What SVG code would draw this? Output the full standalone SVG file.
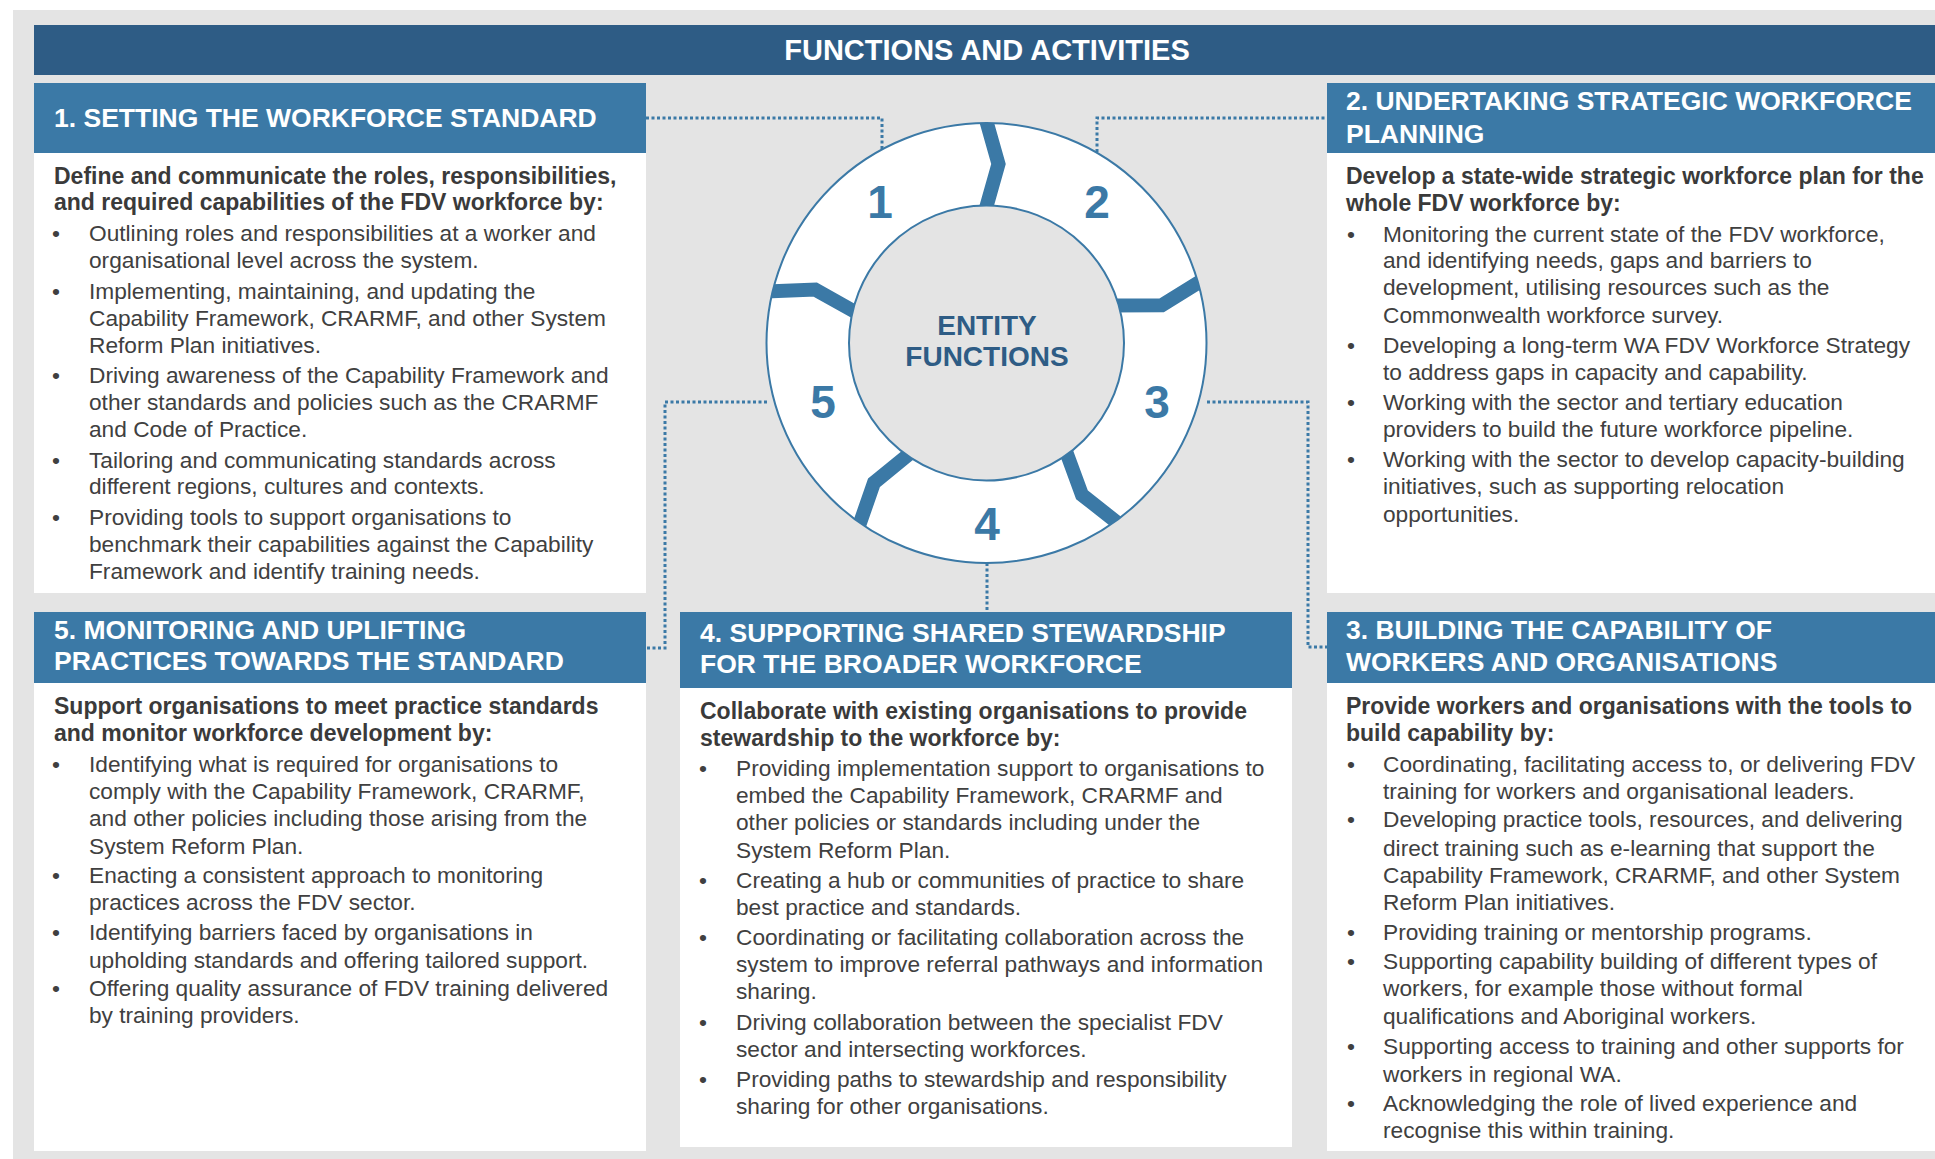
<svg xmlns="http://www.w3.org/2000/svg" width="1935" height="1159" viewBox="0 0 1935 1159">
  <defs>
    <style>
      .bg { fill: #e4e4e4; }
      .bar { fill: #2e5c85; }
      .hdr { fill: #3b79a6; }
      .body { fill: #ffffff; }
      .title { font-family: "Liberation Sans", Arial, sans-serif; font-weight: bold; font-size: 29px; fill: #ffffff; }
      .hd { font-family: "Liberation Sans", Arial, sans-serif; font-weight: bold; font-size: 26.5px; fill: #ffffff; }
      .lead { font-family: "Liberation Sans", Arial, sans-serif; font-weight: bold; font-size: 23px; fill: #3a3a3a; }
      .tx { font-family: "Liberation Sans", Arial, sans-serif; font-size: 22.7px; fill: #404040; }
      .num { font-family: "Liberation Sans", Arial, sans-serif; font-weight: bold; font-size: 46px; fill: #3b79a6; text-anchor: middle; }
      .core { font-family: "Liberation Sans", Arial, sans-serif; font-weight: bold; font-size: 28px; fill: #2e5c85; text-anchor: middle; }
      .link { fill: none; stroke: #3b79a6; stroke-width: 3; stroke-dasharray: 3 2.5; }
      .ring { fill: #ffffff; stroke: #3b79a6; stroke-width: 2; }
      .hub { fill: #e4e4e4; stroke: #3b79a6; stroke-width: 2; }
      .div { fill: none; stroke: #3b79a6; stroke-width: 14; stroke-linejoin: miter; }
    </style>
    <clipPath id="annulus">
      <path clip-rule="evenodd" d="M766.5,343 a220,220 0 1,0 440,0 a220,220 0 1,0 -440,0 Z M849,343 a137.5,137.5 0 1,0 275,0 a137.5,137.5 0 1,0 -275,0 Z"/>
    </clipPath>
    <polyline id="chevron" points="-3,-232 12,-179 -3,-126"/>
  </defs>

  <!-- page background -->
  <rect x="0" y="0" width="1935" height="1159" fill="#ffffff"/>
  <rect class="bg" x="13" y="10" width="1922" height="1149"/>

  <!-- title bar -->
  <g id="title">
    <rect class="bar" x="34" y="25" width="1901" height="50"/>
    <text class="title" x="987" y="60" text-anchor="middle">FUNCTIONS AND ACTIVITIES</text>
  </g>

  <!-- dotted links from the wheel to each function box -->
  <g id="connectors">
    <polyline class="link" points="646,118 882,118 882,150"/>
    <polyline class="link" points="1097,152 1097,118 1327,118"/>
    <polyline class="link" points="1207,402 1308,402 1308,647 1327,647"/>
    <polyline class="link" points="987,563 987,612"/>
    <polyline class="link" points="767,402 665,402 665,648 646,648"/>
  </g>

  <!-- central wheel -->
  <g id="wheel">
    <circle class="ring" cx="986.5" cy="343" r="220"/>
    <g clip-path="url(#annulus)">
      <g transform="translate(986.5,343)" class="div">
        <use href="#chevron"/>
        <use href="#chevron" transform="rotate(74)"/>
        <use href="#chevron" transform="rotate(144)"/>
        <use href="#chevron" transform="rotate(215)"/>
        <use href="#chevron" transform="rotate(283.5)"/>
      </g>
    </g>
    <circle class="hub" cx="986.5" cy="343" r="137.5"/>
    <text class="num" x="880" y="218">1</text>
    <text class="num" x="1097" y="218">2</text>
    <text class="num" x="1157" y="418">3</text>
    <text class="num" x="987" y="540">4</text>
    <text class="num" x="823" y="418">5</text>
    <text class="core" x="987" y="335">ENTITY</text>
    <text class="core" x="987" y="366">FUNCTIONS</text>
  </g>

  <!-- 1. setting the workforce standard -->
  <g id="box1">
    <rect class="hdr" x="34" y="83" width="612" height="70"/>
    <rect class="body" x="34" y="153" width="612" height="440"/>
    <text class="hd" x="54" y="127">1. SETTING THE WORKFORCE STANDARD</text>
    <text class="lead" x="54">
      <tspan x="54" y="184">Define and communicate the roles, responsibilities,</tspan>
      <tspan x="54" y="210">and required capabilities of the FDV workforce by:</tspan>
    </text>
    <text class="tx">
      <tspan x="52" y="241">•</tspan><tspan x="89" y="241">Outlining roles and responsibilities at a worker and</tspan>
      <tspan x="89" y="268">organisational level across the system.</tspan>
      <tspan x="52" y="299">•</tspan><tspan x="89" y="299">Implementing, maintaining, and updating the</tspan>
      <tspan x="89" y="326">Capability Framework, CRARMF, and other System</tspan>
      <tspan x="89" y="353">Reform Plan initiatives.</tspan>
      <tspan x="52" y="383">•</tspan><tspan x="89" y="383">Driving awareness of the Capability Framework and</tspan>
      <tspan x="89" y="410">other standards and policies such as the CRARMF</tspan>
      <tspan x="89" y="437">and Code of Practice.</tspan>
      <tspan x="52" y="468">•</tspan><tspan x="89" y="468">Tailoring and communicating standards across</tspan>
      <tspan x="89" y="494">different regions, cultures and contexts.</tspan>
      <tspan x="52" y="525">•</tspan><tspan x="89" y="525">Providing tools to support organisations to</tspan>
      <tspan x="89" y="552">benchmark their capabilities against the Capability</tspan>
      <tspan x="89" y="579">Framework and identify training needs.</tspan>
    </text>
  </g>

  <!-- 2. undertaking strategic workforce planning -->
  <g id="box2">
    <rect class="hdr" x="1327" y="83" width="608" height="70"/>
    <rect class="body" x="1327" y="153" width="608" height="440"/>
    <text class="hd">
      <tspan x="1346" y="110">2. UNDERTAKING STRATEGIC WORKFORCE</tspan>
      <tspan x="1346" y="143">PLANNING</tspan>
    </text>
    <text class="lead">
      <tspan x="1346" y="184">Develop a state-wide strategic workforce plan for the</tspan>
      <tspan x="1346" y="211">whole FDV workforce by:</tspan>
    </text>
    <text class="tx">
      <tspan x="1347" y="242">•</tspan><tspan x="1383" y="242">Monitoring the current state of the FDV workforce,</tspan>
      <tspan x="1383" y="268">and identifying needs, gaps and barriers to</tspan>
      <tspan x="1383" y="295">development, utilising resources such as the</tspan>
      <tspan x="1383" y="323">Commonwealth workforce survey.</tspan>
      <tspan x="1347" y="353">•</tspan><tspan x="1383" y="353">Developing a long-term WA FDV Workforce Strategy</tspan>
      <tspan x="1383" y="380">to address gaps in capacity and capability.</tspan>
      <tspan x="1347" y="410">•</tspan><tspan x="1383" y="410">Working with the sector and tertiary education</tspan>
      <tspan x="1383" y="437">providers to build the future workforce pipeline.</tspan>
      <tspan x="1347" y="467">•</tspan><tspan x="1383" y="467">Working with the sector to develop capacity-building</tspan>
      <tspan x="1383" y="494">initiatives, such as supporting relocation</tspan>
      <tspan x="1383" y="522">opportunities.</tspan>
    </text>
  </g>

  <!-- 3. building the capability of workers and organisations -->
  <g id="box3">
    <rect class="hdr" x="1327" y="612" width="608" height="71"/>
    <rect class="body" x="1327" y="683" width="608" height="468"/>
    <text class="hd">
      <tspan x="1346" y="639">3. BUILDING THE CAPABILITY OF</tspan>
      <tspan x="1346" y="671">WORKERS AND ORGANISATIONS</tspan>
    </text>
    <text class="lead">
      <tspan x="1346" y="714">Provide workers and organisations with the tools to</tspan>
      <tspan x="1346" y="741">build capability by:</tspan>
    </text>
    <text class="tx">
      <tspan x="1347" y="772">•</tspan><tspan x="1383" y="772">Coordinating, facilitating access to, or delivering FDV</tspan>
      <tspan x="1383" y="799">training for workers and organisational leaders.</tspan>
      <tspan x="1347" y="827">•</tspan><tspan x="1383" y="827">Developing practice tools, resources, and delivering</tspan>
      <tspan x="1383" y="856">direct training such as e-learning that support the</tspan>
      <tspan x="1383" y="883">Capability Framework, CRARMF, and other System</tspan>
      <tspan x="1383" y="910">Reform Plan initiatives.</tspan>
      <tspan x="1347" y="940">•</tspan><tspan x="1383" y="940">Providing training or mentorship programs.</tspan>
      <tspan x="1347" y="969">•</tspan><tspan x="1383" y="969">Supporting capability building of different types of</tspan>
      <tspan x="1383" y="996">workers, for example those without formal</tspan>
      <tspan x="1383" y="1024">qualifications and Aboriginal workers.</tspan>
      <tspan x="1347" y="1054">•</tspan><tspan x="1383" y="1054">Supporting access to training and other supports for</tspan>
      <tspan x="1383" y="1082">workers in regional WA.</tspan>
      <tspan x="1347" y="1111">•</tspan><tspan x="1383" y="1111">Acknowledging the role of lived experience and</tspan>
      <tspan x="1383" y="1138">recognise this within training.</tspan>
    </text>
  </g>

  <!-- 4. supporting shared stewardship -->
  <g id="box4">
    <rect class="hdr" x="680" y="612" width="612" height="76"/>
    <rect class="body" x="680" y="688" width="612" height="459"/>
    <text class="hd">
      <tspan x="700" y="642">4. SUPPORTING SHARED STEWARDSHIP</tspan>
      <tspan x="700" y="673">FOR THE BROADER WORKFORCE</tspan>
    </text>
    <text class="lead">
      <tspan x="700" y="719">Collaborate with existing organisations to provide</tspan>
      <tspan x="700" y="746">stewardship to the workforce by:</tspan>
    </text>
    <text class="tx">
      <tspan x="699" y="776">•</tspan><tspan x="736" y="776">Providing implementation support to organisations to</tspan>
      <tspan x="736" y="803">embed the Capability Framework, CRARMF and</tspan>
      <tspan x="736" y="830">other policies or standards including under the</tspan>
      <tspan x="736" y="858">System Reform Plan.</tspan>
      <tspan x="699" y="888">•</tspan><tspan x="736" y="888">Creating a hub or communities of practice to share</tspan>
      <tspan x="736" y="915">best practice and standards.</tspan>
      <tspan x="699" y="945">•</tspan><tspan x="736" y="945">Coordinating or facilitating collaboration across the</tspan>
      <tspan x="736" y="972">system to improve referral pathways and information</tspan>
      <tspan x="736" y="999">sharing.</tspan>
      <tspan x="699" y="1030">•</tspan><tspan x="736" y="1030">Driving collaboration between the specialist FDV</tspan>
      <tspan x="736" y="1057">sector and intersecting workforces.</tspan>
      <tspan x="699" y="1087">•</tspan><tspan x="736" y="1087">Providing paths to stewardship and responsibility</tspan>
      <tspan x="736" y="1114">sharing for other organisations.</tspan>
    </text>
  </g>

  <!-- 5. monitoring and uplifting practices -->
  <g id="box5">
    <rect class="hdr" x="34" y="612" width="612" height="71"/>
    <rect class="body" x="34" y="683" width="612" height="468"/>
    <text class="hd">
      <tspan x="54" y="639">5. MONITORING AND UPLIFTING</tspan>
      <tspan x="54" y="670">PRACTICES TOWARDS THE STANDARD</tspan>
    </text>
    <text class="lead">
      <tspan x="54" y="714">Support organisations to meet practice standards</tspan>
      <tspan x="54" y="741">and monitor workforce development by:</tspan>
    </text>
    <text class="tx">
      <tspan x="52" y="772">•</tspan><tspan x="89" y="772">Identifying what is required for organisations to</tspan>
      <tspan x="89" y="799">comply with the Capability Framework, CRARMF,</tspan>
      <tspan x="89" y="826">and other policies including those arising from the</tspan>
      <tspan x="89" y="854">System Reform Plan.</tspan>
      <tspan x="52" y="883">•</tspan><tspan x="89" y="883">Enacting a consistent approach to monitoring</tspan>
      <tspan x="89" y="910">practices across the FDV sector.</tspan>
      <tspan x="52" y="940">•</tspan><tspan x="89" y="940">Identifying barriers faced by organisations in</tspan>
      <tspan x="89" y="968">upholding standards and offering tailored support.</tspan>
      <tspan x="52" y="996">•</tspan><tspan x="89" y="996">Offering quality assurance of FDV training delivered</tspan>
      <tspan x="89" y="1023">by training providers.</tspan>
    </text>
  </g>
</svg>
